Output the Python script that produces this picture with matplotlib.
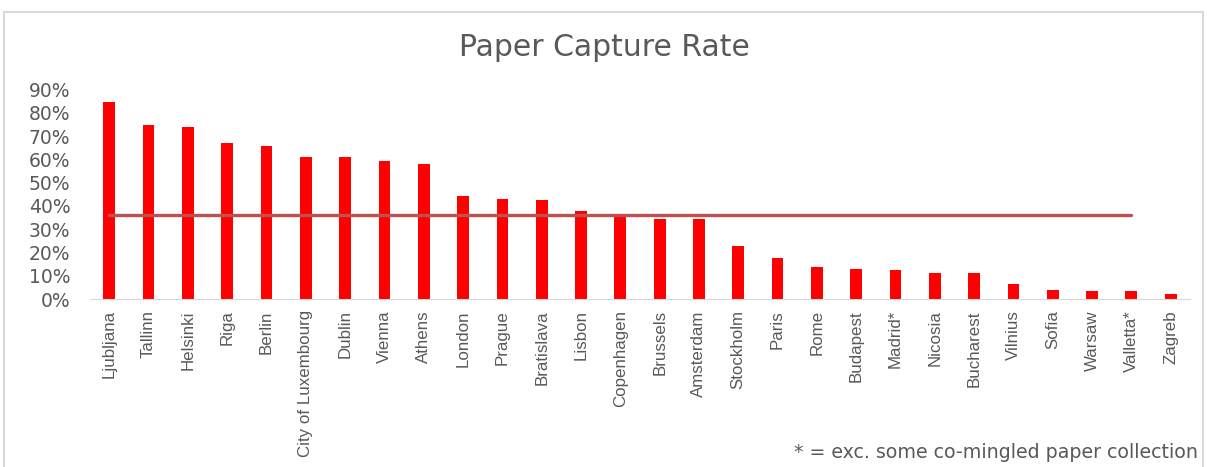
import numpy as np
import matplotlib.pyplot as plt
from matplotlib.patches import Rectangle

cities = ["Ljubljana", "Tallinn", "Helsinki", "Riga", "Berlin", "City of Luxembourg",
          "Dublin", "Vienna", "Athens", "London", "Prague", "Bratislava", "Lisbon",
          "Copenhagen", "Brussels", "Amsterdam", "Stockholm", "Paris", "Rome",
          "Budapest", "Madrid*", "Nicosia", "Bucharest", "Vilnius", "Sofia",
          "Warsaw", "Valletta*", "Zagreb"]
rate = [84.5, 74.6, 73.7, 66.8, 65.9, 61.2, 60.8, 59.1, 57.8, 44.4, 43.1, 42.7,
        37.9, 35.8, 34.5, 34.5, 22.8, 17.7, 13.8, 12.9, 12.5, 11.2, 11.2, 6.5,
        3.9, 3.4, 3.4, 2.2]
average = 35.9

plt.rcParams['font.family'] = ['Liberation Sans', 'DejaVu Sans']
grey = '#595959'

fig = plt.figure(figsize=(12.08, 4.67), dpi=100)
ax = fig.add_axes([0.0742, 0.3597, 0.9112, 0.4487])

x = np.arange(len(cities))
ax.bar(x, rate, width=0.3, color='#ff0000', zorder=2)
# average line runs up to Valletta
ax.plot([x[0], x[-2]], [average, average], color='#c0504d', lw=2.4,
        solid_capstyle='round', zorder=3)

ax.set_xlim(-0.5, len(cities) - 0.5)
ax.set_ylim(0, 90)
ax.set_yticks(np.arange(0, 91, 10))
ax.set_yticklabels([f"{v}%" for v in range(0, 91, 10)], color=grey,
                   fontsize=13.5, family='DejaVu Sans')
ax.set_xticks(x)
ax.set_xticklabels(cities, rotation=90, color=grey, fontsize=12.2)
ax.tick_params(axis='both', length=0)
ax.tick_params(axis='y', pad=14)
ax.tick_params(axis='x', pad=8)
for s in ['top', 'right', 'left']:
    ax.spines[s].set_visible(False)
ax.spines['bottom'].set_color('#d9d9d9')

fig.text(0.5, 0.898, "Paper Capture Rate", ha='center', va='center',
         fontsize=21.5, color=grey, family='DejaVu Sans')
fig.text(0.992, 0.03, "* = exc. some co-mingled paper collection", ha='right',
         va='center', fontsize=13.7, color=grey, family='DejaVu Sans')

fig.add_artist(Rectangle((4 / 1208, -0.01), 1199 / 1208, 1 - 12 / 467 + 0.01,
                         transform=fig.transFigure, fill=False,
                         edgecolor='#d9d9d9', lw=1.5))

plt.savefig("out.png", dpi=100)
